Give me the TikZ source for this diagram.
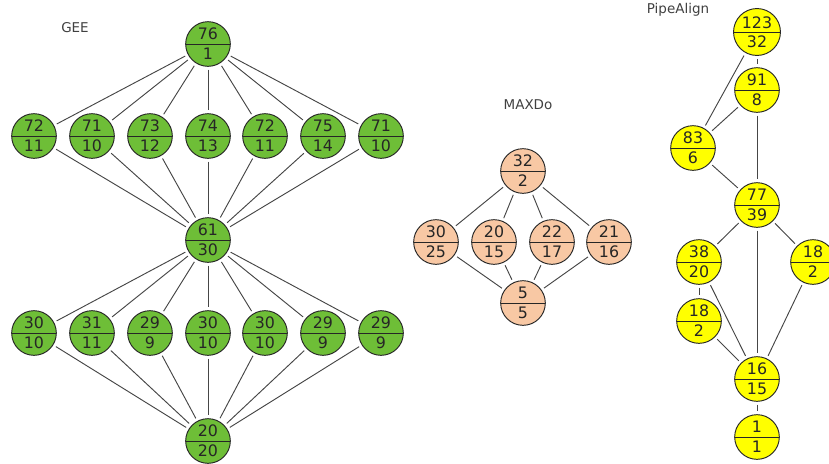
\documentclass[tikz,border=0pt]{standalone}
\usepackage{fontspec}
\setmainfont{DejaVu Sans}
\usetikzlibrary{shapes.multipart}
\definecolor{xLeaf}{RGB}{110,190,55}
\definecolor{xPeach}{RGB}{248,200,164}
\definecolor{xLemon}{RGB}{255,255,0}
\definecolor{xWire}{RGB}{70,70,70}
\tikzset{
  lattice/.style={circle split, draw=black!85, thick, minimum size=1.34cm, inner xsep=0pt, inner ysep=3.2pt,
                  font=\fontsize{13.5}{14}\selectfont, text=black!85},
  geeN/.style={lattice, fill=xLeaf},
  maxN/.style={lattice, fill=xPeach},
  pipeN/.style={lattice, fill=xLemon},
  link/.style={xWire, thick, shorten <=2.5pt, shorten >=2.5pt},
  title/.style={font=\fontsize{11.5}{12}\selectfont, text=black!75},
}

\begin{document}
\begin{tikzpicture}[x=0.03cm, y=-0.03cm]
    \useasboundingbox (0,0) rectangle (829,463);
    % GEE
    \node[title] (tg) at (75,28) {GEE};
    \node[geeN] (g0) at (208,44)  {76 \nodepart{lower} 1};
    \node[geeN] (g1) at (34,136)  {72 \nodepart{lower} 11};
    \node[geeN] (g2) at (92,136)  {71 \nodepart{lower} 10};
    \node[geeN] (g3) at (150,136) {73 \nodepart{lower} 12};
    \node[geeN] (g4) at (208,136) {74 \nodepart{lower} 13};
    \node[geeN] (g5) at (265,136) {72 \nodepart{lower} 11};
    \node[geeN] (g6) at (323,136) {75 \nodepart{lower} 14};
    \node[geeN] (g7) at (381,136) {71 \nodepart{lower} 10};
    \node[geeN] (gm) at (208,240) {61 \nodepart{lower} 30};
    \node[geeN] (h1) at (34,333)  {30 \nodepart{lower} 10};
    \node[geeN] (h2) at (92,333)  {31 \nodepart{lower} 11};
    \node[geeN] (h3) at (150,333) {29 \nodepart{lower} 9};
    \node[geeN] (h4) at (208,333) {30 \nodepart{lower} 10};
    \node[geeN] (h5) at (265,333) {30 \nodepart{lower} 10};
    \node[geeN] (h6) at (323,333) {29 \nodepart{lower} 9};
    \node[geeN] (h7) at (381,333) {29 \nodepart{lower} 9};
    \node[geeN] (gb) at (208,441) {20 \nodepart{lower} 20};
    \draw[link] (g0) -- (g1);  \draw[link] (g0) -- (g2);  \draw[link] (g0) -- (g3);  \draw[link] (g0) -- (g4);
    \draw[link] (g0) -- (g5);  \draw[link] (g0) -- (g6);  \draw[link] (g0) -- (g7);
    \draw[link] (g1) -- (gm);  \draw[link] (g2) -- (gm);  \draw[link] (g3) -- (gm);  \draw[link] (g4) -- (gm);
    \draw[link] (g5) -- (gm);  \draw[link] (g6) -- (gm);  \draw[link] (g7) -- (gm);
    \draw[link] (gm) -- (h1);  \draw[link] (gm) -- (h2);  \draw[link] (gm) -- (h3);  \draw[link] (gm) -- (h4);
    \draw[link] (gm) -- (h5);  \draw[link] (gm) -- (h6);  \draw[link] (gm) -- (h7);
    \draw[link] (h1) -- (gb);  \draw[link] (h2) -- (gb);  \draw[link] (h3) -- (gb);  \draw[link] (h4) -- (gb);
    \draw[link] (h5) -- (gb);  \draw[link] (h6) -- (gb);  \draw[link] (h7) -- (gb);
    % MAXDo
    \node[title] (tm) at (528,105) {MAXDo};
    \node[maxN] (m0) at (523,171) {32 \nodepart{lower} 2};
    \node[maxN] (m1) at (436,242) {30 \nodepart{lower} 25};
    \node[maxN] (m2) at (494,242) {20 \nodepart{lower} 15};
    \node[maxN] (m3) at (552,242) {22 \nodepart{lower} 17};
    \node[maxN] (m4) at (609,242) {21 \nodepart{lower} 16};
    \node[maxN] (m5) at (523,303) {5 \nodepart{lower} 5};
    \draw[link] (m0) -- (m1);  \draw[link] (m0) -- (m2);  \draw[link] (m0) -- (m3);  \draw[link] (m0) -- (m4);
    \draw[link] (m1) -- (m5);  \draw[link] (m2) -- (m5);  \draw[link] (m3) -- (m5);  \draw[link] (m4) -- (m5);
    % PipeAlign
    \node[title] (tp) at (678,10) {PipeAlign};
    \node[pipeN, inner ysep=2.4pt] (p1) at (757,32)  {123 \nodepart{lower} 32};
    \node[pipeN] (p2) at (757,90)  {91 \nodepart{lower} 8};
    \node[pipeN] (p3) at (693,148) {83 \nodepart{lower} 6};
    \node[pipeN] (p4) at (757,205) {77 \nodepart{lower} 39};
    \node[pipeN] (p5) at (699,262) {38 \nodepart{lower} 20};
    \node[pipeN] (p6) at (813,262) {18 \nodepart{lower} 2};
    \node[pipeN] (p7) at (699,321) {18 \nodepart{lower} 2};
    \node[pipeN] (p8) at (757,379) {16 \nodepart{lower} 15};
    \node[pipeN] (p9) at (757,437) {1 \nodepart{lower} 1};
    \draw[link] (p1) -- (p2);  \draw[link] (p1) -- (p3);  \draw[link] (p2) -- (p3);
    \draw[link] (p2) -- (p4);  \draw[link] (p3) -- (p4);
    \draw[link] (p4) -- (p5);  \draw[link] (p4) -- (p8);  \draw[link] (p4) -- (p6);
    \draw[link] (p5) -- (p7);  \draw[link] (p5) -- (p8);  \draw[link] (p7) -- (p8);
    \draw[link] (p6) -- (p8);  \draw[link] (p8) -- (p9);
\end{tikzpicture}
\end{document}
